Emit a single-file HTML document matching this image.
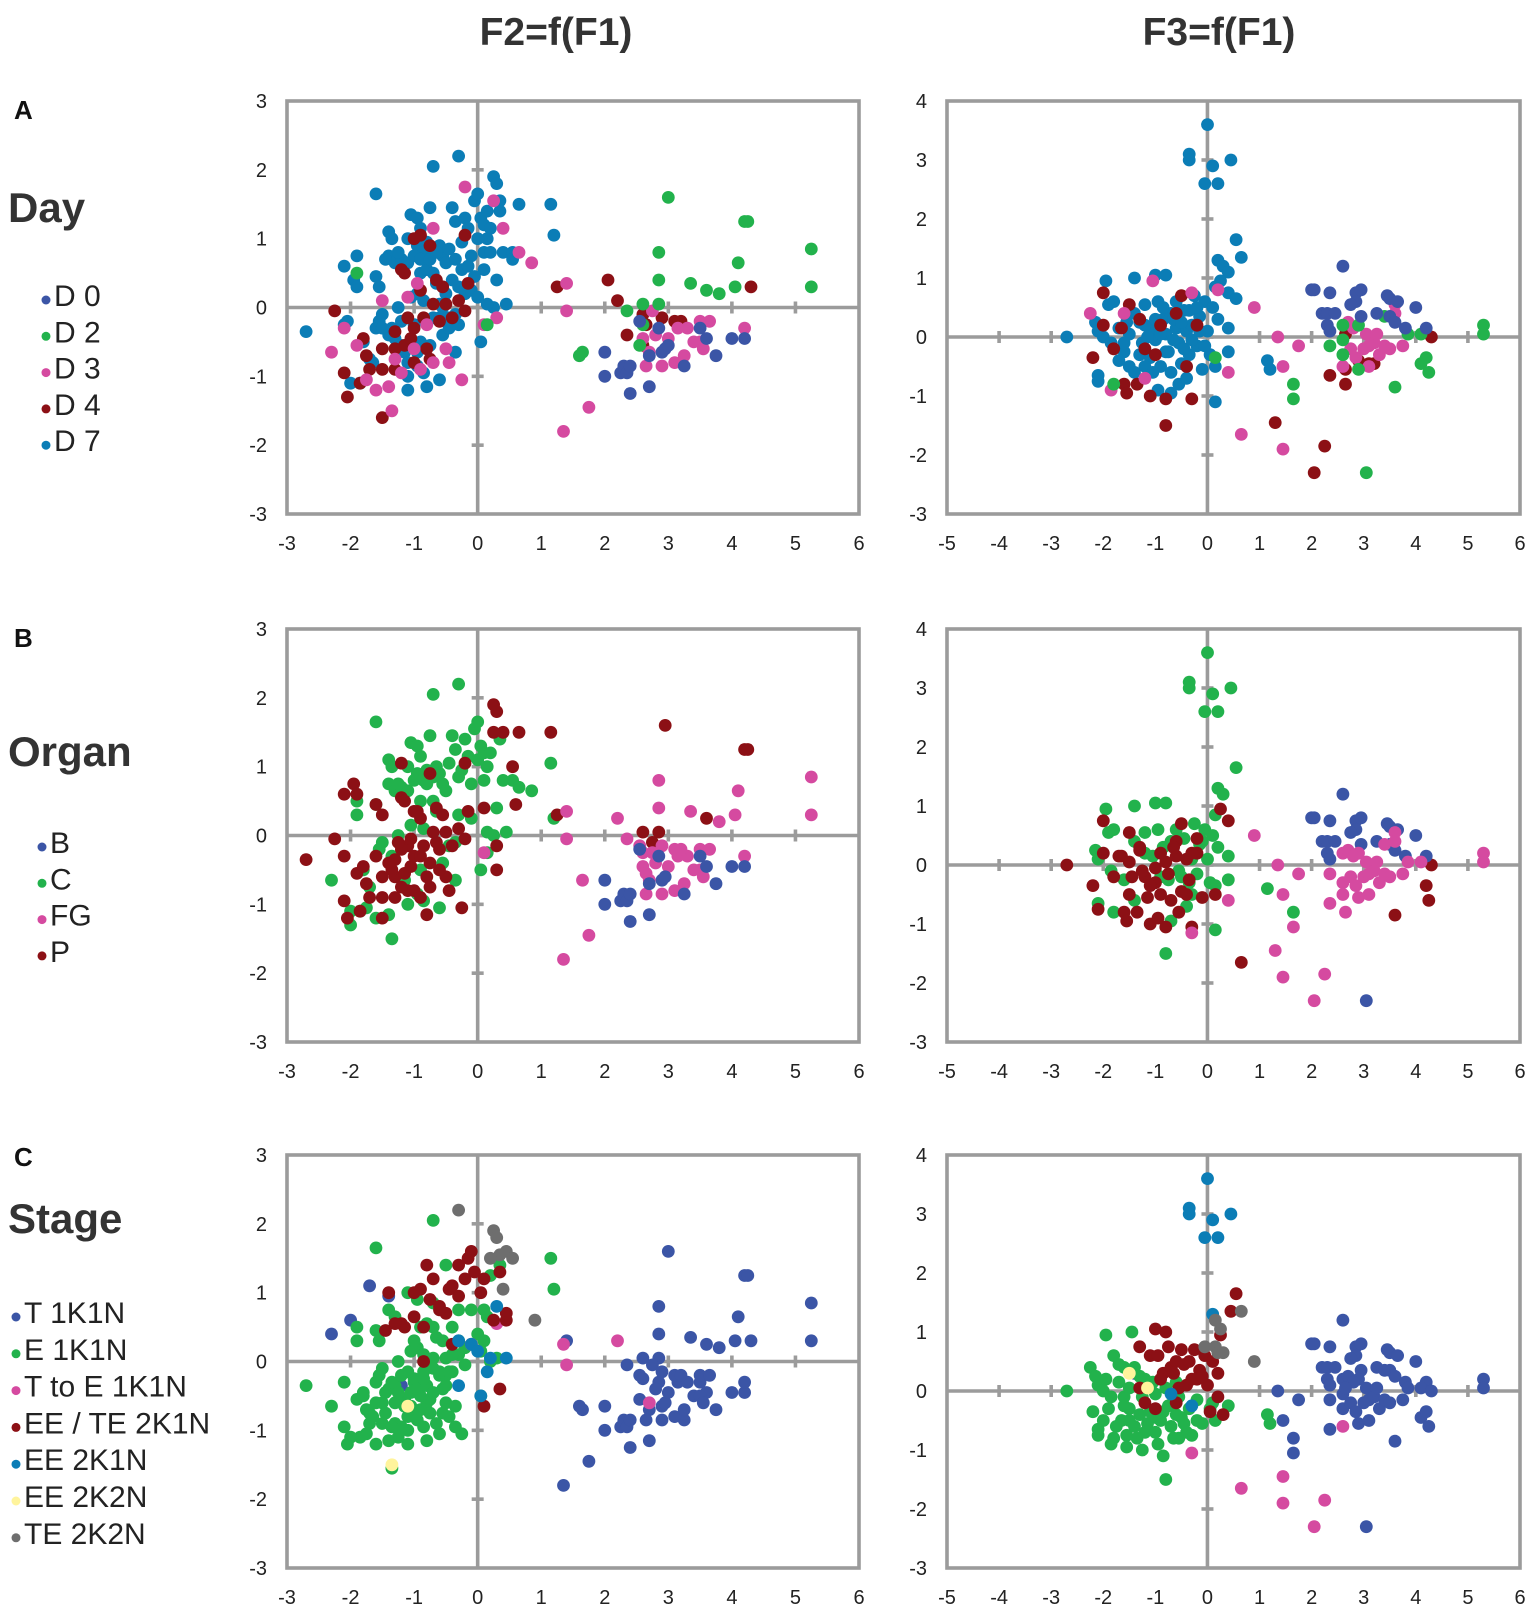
<!DOCTYPE html>
<html><head><meta charset="utf-8">
<style>
html,body{margin:0;padding:0;background:#fff;}
body{width:1535px;height:1610px;position:relative;overflow:hidden;font-family:"Liberation Sans",sans-serif;color:#222;}
svg{position:absolute;left:0;top:0;}
</style></head>
<body>
<svg id="chart" width="1535" height="1610" viewBox="0 0 1535 1610" xmlns="http://www.w3.org/2000/svg" font-family="Liberation Sans, sans-serif">
<text x="556" y="45" font-size="39" font-weight="bold" text-anchor="middle" fill="#333">F2=f(F1)</text>
<text x="1219" y="45" font-size="39" font-weight="bold" text-anchor="middle" fill="#333">F3=f(F1)</text>
<text x="14" y="119" font-size="26" font-weight="bold" fill="#111">A</text>
<text x="14" y="647" font-size="26" font-weight="bold" fill="#111">B</text>
<text x="14" y="1166" font-size="26" font-weight="bold" fill="#111">C</text>
<text x="8" y="222" font-size="42" font-weight="bold" fill="#333">Day</text>
<text x="8" y="766" font-size="42" font-weight="bold" fill="#333">Organ</text>
<text x="8" y="1233" font-size="42" font-weight="bold" fill="#333">Stage</text>
<g id="legends"></g>
<g id="panels"></g>
</svg>
<script>
// ---------- DATA ----------
const legendDay = ["D 0","D 2","D 3","D 4","D 7"];
const legendOrgan = ["B","C","FG","P"];
const legendStage = ["T 1K1N","E 1K1N","T to E 1K1N","EE / TE 2K1N","EE 2K1N","EE 2K2N","TE 2K2N"];
const leftXTicks = [-3,-2,-1,0,1,2,3,4,5,6];
const leftYTicks = [-3,-2,-1,0,1,2,3];
const rightXTicks = [-5,-4,-3,-2,-1,0,1,2,3,4,5,6];
const rightYTicks = [-3,-2,-1,0,1,2,3,4];

// Panel A left (F2 vs F1)
const aL_D7 = "-2.7,-0.35 -2.1,-0.25 -2.05,-0.2 -1.95,0.4 -1.9,0.75 -2.1,0.6 -1.9,0.3 -1.6,0.45 -1.55,0.3 -1.6,1.65 -1.4,1.1 -1.35,1.0 -1.4,0.75 -1.3,0.65 -1.2,0.7 -1.1,0.65 -1.1,1.0 -1.05,1.35 -0.95,1.3 -0.9,1.15 -0.95,0.9 -0.85,0.8 -0.8,0.95 -0.75,1.45 -0.7,2.05 -0.7,0.85 -0.6,0.9 -0.55,0.75 -0.5,0.65 -0.4,1.45 -0.35,1.25 -0.3,2.2 -0.25,0.95 -0.2,1.3 -0.15,1.15 -0.1,0.75 -0.05,1.55 0,1.65 0.05,1.3 0.1,1.2 0.15,1.0 0.25,1.9 0.3,1.8 0.35,1.55 0.35,1.4 0.1,0.8 0.2,0.8 0.4,0.8 0.55,0.8 0.55,0.7 0.65,1.5 1.15,1.5 1.2,1.05 0.45,0.05 0.25,0 0.15,0.05 0.3,0.4 0.1,0.55 -1.6,-0.3 -1.55,-0.2 -1.5,-0.1 -1.4,-0.4 -1.35,-0.3 -1.25,0 -1.2,-0.2 -1.15,-0.65 -1.1,-0.8 -1.1,-1.0 -1.1,-1.2 -0.95,-0.85 -0.9,-0.5 -0.85,-0.95 -0.8,-1.15 -0.75,-0.55 -0.6,-1.05 -0.55,-0.4 -0.5,-0.2 -0.45,-0.15 -0.4,-0.2 -0.35,-0.1 -0.35,-0.65 -0.3,0.3 -0.2,0.2 -0.1,0.25 0,0.15 0.05,-0.5 -1.8,-0.5 -1.7,-0.75 -1.65,-0.8 -1.85,-1.1 -2.0,-1.1 -0.9,0.5 -0.8,0.55 -0.7,0.5 -0.65,0.35 -0.55,0.3 -1.05,0.15 -0.95,0.2 -0.85,0.1 -0.7,-0.15 -0.6,-0.15 -1.0,-0.25 -1.45,0.7 -1.25,0.8 -1.0,0.75 -0.9,0.7 -0.75,0.7 -0.65,0.8 -0.45,0.85 -0.35,0.7 -0.25,0.55 -0.15,0.6 -0.05,0.45 0.0,1.0 0.15,1.4 0.2,1.15 -0.4,0.4 -0.5,0.2 -0.6,0.05 -0.3,-0.25 -0.45,-0.3 -0.55,0.0 -1.5,-0.3 -1.3,-0.45 -1.2,-0.55 -0.95,-0.65";
const aL_D4 = "-2.25,-0.05 -2.1,-0.95 -2.05,-1.3 -1.8,-0.45 -1.75,-0.7 -1.7,-0.9 -1.5,-0.6 -1.5,-0.9 -1.5,-1.6 -1.3,-0.35 -1.3,-0.9 -1.2,0.55 -1.15,0.5 -1.15,-0.55 -1.05,-0.45 -1.0,-0.3 -1.0,-0.8 -0.9,0.25 -0.85,-0.15 -0.8,-0.6 -0.75,-0.75 -0.7,0.05 -0.6,-0.2 -0.55,0.3 -0.5,0.05 -0.4,-0.15 -0.3,0.1 -0.2,-0.05 -0.15,0.35 -0.2,1.05 -0.9,1.05 -1.0,1.0 -0.75,0.9 -1.85,-1.1 1.25,0.3 2.05,0.4 2.2,0.1 2.35,-0.4 2.6,-0.1 2.65,-0.25 2.6,-0.55 2.9,-0.15 3.1,-0.2 3.2,-0.2 4.3,0.3 -1.3,-0.6 -1.1,-0.15 -0.65,0.4";
const aL_D3 = "-2.3,-0.65 -2.1,-0.3 -1.9,-0.55 -1.75,-1.05 -1.6,-1.2 -1.4,-1.15 -1.35,-1.5 -1.5,0.1 -1.3,-0.75 -1.2,-0.95 -1.0,-0.6 -0.9,-0.9 -0.8,-0.25 -0.7,1.15 -0.7,-0.8 -0.5,-0.6 -0.45,-0.8 -0.25,-1.05 -0.2,1.75 0.25,1.55 0.4,1.15 0.65,0.8 0.85,0.65 0.3,-0.15 0.1,-0.25 1.4,0.35 1.4,-0.05 1.35,-1.8 1.75,-1.45 2.6,-0.45 2.65,-0.85 2.75,-0.05 2.8,-0.4 3.0,-0.45 2.9,-0.85 3.1,-0.8 3.15,-0.3 3.3,-0.3 3.4,-0.5 3.5,-0.2 3.5,-0.5 3.55,-0.6 3.65,-0.2 3.25,-0.7 4.2,-0.3 2.7,-0.65 -0.95,0.35 -1.1,0.15";
const aL_D2 = "3.0,1.6 4.2,1.25 4.25,1.25 2.85,0.8 5.25,0.85 4.1,0.65 2.85,0.4 3.35,0.35 3.6,0.25 3.8,0.2 4.05,0.3 5.25,0.3 2.6,0.05 2.85,0.05 2.35,-0.05 2.6,-0.25 2.55,-0.55 1.65,-0.65 1.6,-0.7 -1.9,0.5 0.15,-0.25";
const aL_D0 = "2.0,-0.65 2.0,-1.0 2.25,-0.95 2.3,-0.85 2.35,-0.95 2.4,-0.85 2.4,-1.25 2.7,-1.15 2.55,-0.2 2.7,-0.7 2.85,-0.3 2.9,-0.65 2.95,-0.6 3.25,-0.85 3.5,-0.3 3.6,-0.45 3.75,-0.7 4.0,-0.45 4.2,-0.45 3.0,-0.55";

// Panel A right (F3 vs F1)
const aR_D7 = "0,3.6 -0.35,3.1 -0.35,3.0 0.1,2.9 0.45,3.0 -0.05,2.6 0.2,2.6 0.55,1.65 0.65,1.35 0.2,1.3 0.3,1.2 0.4,1.1 0.25,0.95 0.4,0.75 0.55,0.65 0.15,0.85 -2.7,0 -1.95,0.95 -1.4,1.0 -1.0,1.05 -0.8,1.05 -1.8,0.6 -1.9,0.55 -2.15,0.25 -2.1,0.1 -2.0,0 -1.85,-0.1 -1.7,0.15 -1.6,-0.25 -1.5,0.05 -1.5,-0.5 -1.4,0.4 -1.4,-0.6 -1.3,0.25 -1.25,-0.1 -1.2,0.55 -1.1,-0.35 -1.05,0.15 -1.0,-0.05 -0.95,0.6 -0.9,-0.5 -0.85,0.3 -0.8,0.05 -0.75,-0.25 -0.7,-0.6 -0.7,0.4 -0.6,0.15 -0.55,-0.1 -0.5,-0.45 -0.45,0.45 -0.4,0.1 -0.35,-0.3 -0.3,0.2 -0.25,0.7 -0.2,-0.15 -0.15,0.35 -0.1,-0.55 -0.05,0.6 0,0.1 0.05,-0.3 0.1,0.5 0.15,-0.5 0.2,0.3 0.4,0.15 0.4,-0.25 -0.95,-0.9 -0.7,-0.95 -0.55,-0.8 -0.4,-0.7 0.15,-1.1 -2.1,-0.65 -2.1,-0.75 -1.6,-0.1 -1.2,0.2 -0.65,0.3 1.15,-0.4 1.2,-0.55 -1.15,0.0 -1.0,0.3 -0.9,0.05 -0.8,-0.25 -0.65,-0.05 -0.5,0.25 -0.45,-0.2 -0.3,-0.05 -0.15,0.1 -0.05,-0.15 -1.3,-0.3 -1.2,-0.5 -1.05,-0.6 -0.85,0.5 -0.6,0.6 -0.35,0.45 -0.2,0.5 -1.7,-0.4 -1.55,0.25";
const aR_D4 = "-2.0,0.75 -2.0,0.2 -1.5,0.55 -2.2,-0.35 -1.6,-0.8 -1.55,-0.95 -1.35,-0.8 -1.1,-1.0 -0.8,-1.05 -0.3,-1.05 -0.8,-1.5 -1.65,0.15 -1.3,0.3 -1.0,-0.3 -0.6,0.4 -0.9,0.2 -0.4,-0.5 -0.2,0.2 -1.2,-0.2 1.3,-1.45 2.05,-2.3 2.25,-1.85 2.35,-0.65 2.65,0.05 2.65,-0.55 2.65,-0.8 2.9,-0.4 3.2,-0.45 3.1,-0.45 4.3,0 -1.8,-0.2 -0.5,0.7";
const aR_D3 = "-2.25,0.4 -1.85,-0.9 -1.05,0.95 0.2,0.8 0.9,0.5 1.35,0 1.75,-0.15 1.45,-0.5 0.65,-1.65 1.45,-1.9 0.4,-0.6 -0.3,0.75 2.6,-0.5 2.7,0.25 2.8,0.15 2.75,-0.2 2.85,-0.35 3.0,-0.2 3.05,0.05 3.1,-0.15 3.2,-0.1 3.25,0.05 3.3,-0.3 3.4,-0.15 3.5,-0.2 3.6,0.55 3.6,0.4 3.75,-0.15 3.1,-0.5 -1.6,0.4 -1.2,-0.7";
const aR_D2 = "5.3,0.2 5.3,0.05 4.1,0.05 3.85,0.05 3.4,0.35 2.9,0.2 2.6,0.2 2.6,-0.05 2.35,-0.15 2.6,-0.3 2.9,-0.55 4.1,-0.45 4.2,-0.35 4.25,-0.6 3.6,-0.85 1.65,-0.8 1.65,-1.05 3.05,-2.3 -1.8,-0.8 0.15,-0.35";
const aR_D0 = "2.6,1.2 2.0,0.8 2.05,0.8 2.35,0.75 2.85,0.75 2.95,0.8 2.85,0.6 2.75,0.55 3.45,0.7 3.5,0.65 3.65,0.6 4.0,0.5 2.2,0.4 2.3,0.4 2.45,0.4 2.3,0.2 2.35,0.1 2.95,0.35 3.25,0.4 3.5,0.35 3.6,0.25 3.8,0.15 4.2,0.15";

// Panel B left
const bL_C = "-2.3,-0.65 -1.9,0.5 -1.75,-1.05 -1.6,-1.2 -1.4,-1.15 -1.35,-1.5 -1.6,1.65 -1.4,1.1 -1.35,1.0 -1.4,0.75 -1.3,0.65 -1.2,0.7 -1.1,0.65 -1.1,1.0 -1.05,1.35 -0.95,1.3 -0.9,1.15 -0.95,0.9 -0.85,0.8 -0.8,0.95 -0.75,1.45 -0.7,2.05 -0.7,0.85 -0.6,0.9 -0.55,0.75 -0.5,0.65 -0.4,1.45 -0.35,1.25 -0.3,2.2 -0.25,0.95 -0.15,1.15 -0.1,0.75 -0.05,1.55 0,1.65 0.05,1.3 0.1,1.2 0.15,1.0 0.35,1.4 0.1,0.8 0.4,0.8 0.55,0.8 0.65,0.7 0.85,0.65 1.15,1.05 0.45,0.05 0.25,0 0.15,0.05 0.3,0.4 1.2,0.25 -1.55,-0.2 -1.5,-0.1 -1.35,-0.3 -1.25,0 -1.15,-0.65 -1.1,-1.0 -0.95,-0.85 -0.9,-0.5 -0.85,-0.95 -0.6,-1.05 -0.55,-0.4 -0.45,-0.15 -0.35,-0.1 -0.35,-0.65 -0.3,0.3 -0.1,0.25 0.05,-0.5 0.15,-0.25 -1.8,-0.5 -1.7,-0.75 -1.85,-1.1 -2.0,-1.1 -2.0,-1.3 -0.9,0.5 -0.7,0.5 -0.65,0.35 -1.05,0.15 -0.85,0.1 -1.9,0.3 -1.6,0.45 -1.25,0.75 -1.0,0.8 -0.8,0.75 -0.65,1.0 -0.45,1.05 -0.3,0.85 -0.2,1.4 0.0,1.1 0.2,1.2";
const bL_P = "-2.7,-0.35 -2.25,-0.05 -2.1,-0.3 -2.1,-0.95 -2.05,-1.2 -1.9,-0.55 -1.8,-0.45 -1.75,-0.7 -1.7,-0.9 -1.5,-0.6 -1.5,-0.9 -1.3,-0.35 -1.3,-0.9 -1.2,0.55 -1.15,0.5 -1.15,-0.55 -1.05,-0.45 -1.0,-0.3 -1.0,-0.8 -0.9,0.25 -0.85,-0.15 -0.8,-0.6 -0.75,-0.75 -0.7,0.05 -0.6,-0.2 -0.55,0.3 -0.5,0.05 -0.4,-0.15 -0.3,0.1 -0.2,-0.05 -0.15,0.35 -0.2,1.05 -1.2,1.05 -1.0,0.35 -0.75,0.9 -1.85,-1.1 -1.95,0.75 -1.9,0.6 -2.1,0.6 -1.6,0.45 -1.5,0.3 -1.3,-0.6 -1.1,-0.15 -0.65,0.4 -1.4,-0.4 -1.2,-0.2 -1.1,-0.8 -0.8,-1.15 -0.5,-0.6 -0.45,-0.8 -0.25,-1.05 0.25,1.9 0.3,1.8 0.25,1.5 0.4,1.5 0.65,1.5 0.55,1.0 0.6,0.45 0.1,0.4 0.3,-0.15 0.3,-0.5 -0.95,0.35 -1.6,-0.3 -1.5,-1.2 -0.9,-0.9 1.15,1.5 1.25,0.3 2.95,1.6 4.2,1.25 4.25,1.25 2.6,0.05 2.75,-0.1 2.85,0.05 3.6,0.25 -1.25,-0.1 -1.05,-0.05 -0.9,-0.3 -0.75,-0.4 -0.6,-0.5 -0.65,-0.1 -1.35,-0.5 -1.2,-0.75";
const bL_FG = "0.1,-0.25 1.4,0.35 1.4,-0.05 1.35,-1.8 1.75,-1.45 1.65,-0.65 2.2,0.25 2.85,0.8 2.85,0.4 3.35,0.35 3.8,0.2 4.05,0.3 4.1,0.65 5.25,0.85 5.25,0.3 2.35,-0.05 2.55,-0.15 2.6,-0.45 2.65,-0.85 2.75,-0.25 2.8,-0.4 3.0,-0.45 2.9,-0.85 3.1,-0.8 3.15,-0.3 3.3,-0.3 3.4,-0.5 3.5,-0.2 3.5,-0.5 3.55,-0.6 3.65,-0.2 3.25,-0.7 4.2,-0.3 2.7,-0.65 2.65,-0.55 2.9,-0.15 3.1,-0.2 3.2,-0.2 2.6,-0.25";
const bL_B = "2.0,-0.65 2.0,-1.0 2.25,-0.95 2.3,-0.85 2.35,-0.95 2.4,-0.85 2.4,-1.25 2.7,-1.15 2.55,-0.2 2.7,-0.7 2.85,-0.3 2.9,-0.65 2.95,-0.6 3.25,-0.85 3.5,-0.3 3.6,-0.45 3.75,-0.7 4.0,-0.45 4.2,-0.45";

// Panel B right
const bR_C = "0,3.6 -0.35,3.1 -0.35,3.0 0.1,2.9 0.45,3.0 -0.05,2.6 0.2,2.6 0.55,1.65 0.2,1.3 0.3,1.2 0.15,0.85 -1.95,0.95 -1.4,1.0 -1.0,1.05 -0.8,1.05 -1.8,0.6 -1.9,0.55 -2.15,0.25 -2.1,0.1 -1.85,-0.1 -1.6,-0.25 -1.4,0.4 -1.4,-0.6 -1.2,0.55 -1.05,0.15 -0.95,0.6 -0.85,0.3 -0.75,-0.25 -0.7,0.4 -0.55,-0.1 -0.45,0.45 -0.35,-0.3 -0.25,0.7 -0.15,0.35 -0.05,0.6 0.05,-0.3 0.1,0.5 0.2,0.3 0.4,0.15 0.4,-0.25 -0.7,-0.95 -0.4,-0.7 0.15,-1.1 -2.1,-0.65 -1.8,-0.8 -0.8,-1.5 -0.3,-0.5 0,0.1 0.15,-0.35 -0.2,-0.15 -1.2,0.2 1.65,-0.8 1.15,-0.4 -0.6,0.6 -0.3,0.1 -0.1,0.4 -0.9,-0.2 -0.5,-0.2";
const bR_P = "-2.7,0 -2.0,0.75 -2.0,0.2 -1.5,0.55 -2.2,-0.35 -1.6,-0.8 -1.55,-0.95 -1.35,-0.8 -1.1,-1.0 -0.8,-1.05 -0.3,-1.05 -1.65,0.15 -1.3,0.3 -1.0,-0.3 -0.6,0.4 -0.9,0.2 -0.4,-0.5 -0.2,0.2 -1.2,-0.2 -1.8,-0.2 -0.5,0.7 -1.5,0.05 -1.5,-0.5 -1.3,0.25 -1.25,-0.1 -1.1,-0.35 -1.0,-0.05 -0.9,-0.5 -0.8,0.05 -0.7,-0.6 -0.6,0.15 -0.5,-0.45 -0.4,0.1 -0.3,0.2 -0.1,-0.55 0.15,-0.5 -0.95,-0.9 -0.55,-0.8 -2.1,-0.75 -1.7,0.15 -0.65,0.3 0.25,0.95 0.4,0.75 0.65,-1.65 4.3,0 4.2,-0.35 4.25,-0.6 3.6,-0.85 -1.15,-0.55 -0.75,-0.15 -0.35,-0.25 -1.45,-0.2 -0.2,0.45";
const bR_FG = "5.3,0.2 5.3,0.05 4.1,0.05 3.85,0.05 3.4,0.35 2.9,0.2 2.6,0.2 2.35,-0.15 2.6,-0.3 2.9,-0.55 1.65,-1.05 0.9,0.5 1.35,0 1.75,-0.15 1.45,-0.5 1.45,-1.9 1.3,-1.45 2.05,-2.3 2.25,-1.85 0.4,-0.6 2.6,-0.5 2.7,0.25 2.8,0.15 2.75,-0.2 2.85,-0.35 3.0,-0.2 3.05,0.05 3.1,-0.15 3.2,-0.1 3.25,0.05 3.3,-0.3 3.4,-0.15 3.5,-0.2 3.6,0.55 3.6,0.4 3.75,-0.15 3.1,-0.5 2.35,-0.65 2.65,-0.8 -0.3,-1.15";
const bR_B = "2.6,1.2 2.0,0.8 2.05,0.8 2.35,0.75 2.85,0.75 2.95,0.8 2.85,0.6 2.75,0.55 3.45,0.7 3.5,0.65 3.65,0.6 4.0,0.5 2.2,0.4 2.3,0.4 2.45,0.4 2.3,0.2 2.35,0.1 2.95,0.35 3.25,0.4 3.5,0.35 3.6,0.25 3.8,0.15 4.2,0.15 3.05,-2.3";

// Panel C left
const cL_T = "1.35,-1.8 1.75,-1.45 1.6,-0.65 1.65,-0.7 2.0,-0.65 2.0,-1.0 2.25,-0.95 2.3,-0.85 2.35,-0.95 2.4,-0.85 2.4,-1.25 2.7,-1.15 2.55,-0.2 2.7,-0.7 2.85,-0.3 2.9,-0.65 2.95,-0.6 3.25,-0.85 3.5,-0.3 3.6,-0.45 3.75,-0.7 4.0,-0.45 4.2,-0.45 3.0,1.6 4.2,1.25 4.25,1.25 2.85,0.8 5.25,0.85 4.1,0.65 2.85,0.4 3.35,0.35 3.6,0.25 3.8,0.2 4.05,0.3 5.25,0.3 2.6,0.05 2.85,0.05 2.35,-0.05 2.6,-0.25 2.55,-0.55 2.75,-0.05 2.8,-0.4 3.0,-0.45 2.9,-0.85 3.1,-0.8 3.15,-0.3 3.3,-0.3 3.4,-0.5 3.5,-0.2 3.5,-0.5 3.55,-0.6 3.65,-0.2 3.25,-0.7 4.2,-0.3 2.65,-0.85 2.9,-0.15 3.1,-0.2 3.2,-0.2 -1.7,1.1 -2.0,0.6 -1.4,0.95 -2.3,0.4 -1.2,-0.35 4.3,0.3 1.4,0.3";
const cL_E = "-2.7,-0.35 -2.3,-0.65 -2.1,-0.3 -2.1,-0.95 -2.05,-1.2 -1.9,-0.55 -1.8,-0.45 -1.75,-0.7 -1.75,-1.05 -1.7,-0.9 -1.6,-1.2 -1.5,-0.6 -1.5,-0.9 -1.4,-1.15 -1.35,-1.55 -1.3,-0.35 -1.3,-0.9 -1.15,-0.55 -1.05,-0.45 -1.0,-0.3 -1.0,-0.8 -0.85,-0.15 -0.8,-0.6 -0.75,-0.75 -0.7,0.05 -0.6,-0.2 -0.5,0.05 -0.4,-0.15 -0.3,0.1 -0.2,-0.05 -1.6,-0.3 -1.55,-0.2 -1.5,-0.1 -1.4,-0.4 -1.35,-0.3 -1.25,0 -1.2,-0.2 -1.15,-0.65 -1.1,-0.8 -1.1,-1.0 -1.1,-1.2 -0.95,-0.85 -0.9,-0.5 -0.85,-0.95 -0.8,-1.15 -0.75,-0.55 -0.6,-1.05 -0.55,-0.4 -0.5,-0.2 -0.45,-0.15 -0.35,-0.65 -0.3,0.3 -0.2,0.2 -0.1,0.25 -1.8,-0.5 -1.7,-0.75 -1.65,-0.8 -1.85,-1.1 -2.0,-1.1 -0.9,0.5 -0.8,0.55 -0.7,0.5 -0.65,0.35 -0.55,0.3 -1.05,0.15 -0.95,0.2 -0.85,0.1 -0.6,-0.15 -1.0,-0.25 -1.3,-0.6 -1.1,-0.15 -0.5,-0.6 -0.45,-0.8 -0.25,-1.05 -1.9,0.5 -1.9,0.3 -1.6,0.45 -1.55,0.3 -1.6,1.65 -1.4,0.75 -1.3,0.65 -1.1,1.0 -1.0,0.3 -0.95,0.9 -0.7,0.85 -0.4,0.5 -0.5,1.4 -0.7,2.05 -0.3,0.75 -0.1,0.75 0,0.4 0.1,0.75 0.15,0.65 0.2,1.25 0.35,1.4 0.1,0.3 0.05,0.15 0.2,0 1.15,1.5 1.2,1.05 0.3,0.05 0.05,-0.5 -0.35,-0.95 -1.45,-0.75 -1.25,-0.45 -1.2,-0.95 -1.05,-0.65 -0.95,-0.4 -0.9,-0.7 -0.8,-0.35 -0.7,-0.45 -0.65,-0.9 -0.55,-0.75 -1.35,-0.95 -1.25,-1.1 -1.6,-0.6 -1.45,-0.45 -0.85,-0.25 -0.7,-0.1 -0.5,-0.35 -0.4,0.1";
const cL_TE1 = "1.35,0.25 1.4,-0.05 2.2,0.3 0.3,0.55 2.7,-0.6 -0.1,0.25";
const cL_EETE = "-1.2,0.55 -1.15,0.5 -1.3,0.55 -1.0,0.65 -0.9,1.05 -1.0,1.0 -0.75,0.9 -0.7,1.2 -0.6,0.8 -0.5,0.7 -0.4,1.1 -0.3,0.95 -0.2,1.2 -0.15,1.5 -0.1,1.6 -0.3,1.4 -0.05,1.3 0.1,1.2 -0.4,0.25 -0.6,0.75 0.25,0.6 0.45,0.6 0.45,0.7 0.35,1.3 -0.85,0.5 -1.45,0.45 -1.4,1.0 -0.8,1.4 -0.45,1.05 0.05,1.0 0.35,-0.4 0.1,-0.65 -0.85,0";
const cL_EE = "-0.3,0.3 -0.1,0.25 0,0.15 0.2,0.05 0.45,0.05 -0.3,-0.35 0.05,-0.5 0.15,-0.15 0.3,0.8";
const cL_EE2 = "-1.1,-0.65 -1.35,-1.5";
const cL_TE2 = "-0.3,2.2 0.25,1.9 0.3,1.8 0.35,1.55 0.45,1.6 0.2,1.5 0.55,1.5 0.4,1.05 0.9,0.6";

// Panel C right
const cR_T = "2.6,1.2 2.0,0.8 2.05,0.8 2.35,0.75 2.85,0.75 2.95,0.8 2.85,0.6 2.75,0.55 3.45,0.7 3.5,0.65 3.65,0.6 4.0,0.5 2.2,0.4 2.3,0.4 2.45,0.4 2.3,0.2 2.35,0.1 2.95,0.35 3.25,0.4 3.5,0.35 3.6,0.25 3.8,0.15 4.2,0.15 5.3,0.2 5.3,0.05 4.1,0.05 3.85,0.05 3.4,0.35 2.9,0.2 2.6,0.2 2.6,-0.05 2.35,-0.15 2.6,-0.3 2.9,-0.55 4.1,-0.45 4.2,-0.35 4.25,-0.6 3.6,-0.85 1.65,-0.8 1.65,-1.05 3.05,-2.3 2.7,0.25 2.8,0.15 2.75,-0.2 2.85,-0.35 3.0,-0.2 3.05,0.05 3.1,-0.15 3.2,-0.1 3.25,0.05 3.3,-0.3 3.4,-0.15 3.5,-0.2 3.75,-0.15 3.1,-0.5 4.3,0 2.65,0.05 2.35,-0.65 1.35,0 1.75,-0.15 1.45,-0.5 -1.4,0.3";
const cR_E = "-2.7,0 -2.25,0.4 -2.2,-0.35 -2.15,0.25 -2.1,0.1 -2.0,0 -1.95,0.95 -1.85,-0.1 -1.85,-0.9 -1.8,0.6 -1.8,-0.8 -1.7,0.15 -1.6,-0.25 -1.6,0.4 -1.5,-0.5 -1.4,-0.6 -1.3,0.25 -1.25,-0.1 -1.2,-0.7 -1.1,-0.35 -1.05,0.15 -1.0,-0.05 -0.95,-0.9 -0.9,-0.5 -0.8,0.05 -0.75,-0.25 -0.7,-0.6 -0.6,0.15 -0.55,-0.1 -0.5,-0.45 -0.4,-0.7 -0.35,-0.3 -0.2,-0.15 -0.1,-0.55 0.05,-0.3 0.15,-0.5 0.4,-0.25 -2.1,-0.65 -2.1,-0.75 -1.6,-0.1 -1.4,0.4 -1.2,0.2 -0.85,-1.1 -0.8,-1.5 -0.55,-0.8 -1.55,-0.95 -1.35,-0.8 -1.65,-0.5 -1.9,-0.3 -1.5,0.05 1.15,-0.4 1.2,-0.55 -1.45,1.0 -1.75,-0.6 -1.5,-0.3 -1.3,-0.4 -1.15,-0.55 -1.0,-0.7 -0.85,-0.35 -0.6,-0.4 -0.45,-0.55 -0.3,-0.75 -1.7,0.45 -1.55,-0.75 -1.25,-1.0 -1.0,-0.45 -0.65,-0.8 -2.0,-0.5 -1.95,0.2 -0.2,-0.5 0.1,-0.2";
const cR_TE1 = "-0.3,-1.05 0.65,-1.65 1.45,-1.45 1.45,-1.9 2.25,-1.85 2.05,-2.3 2.6,-0.6";
const cR_EETE = "-1.0,1.05 -0.8,1.0 -1.3,0.75 -1.1,0.6 -0.95,0.6 -0.85,0.3 -0.7,0.4 -0.6,0.5 -0.45,0.45 -0.4,0.1 -0.3,0.2 -0.25,0.7 -0.15,0.35 -0.05,0.6 0,0.1 0.1,0.5 0.2,0.3 0.2,-0.1 -0.65,0.3 -0.5,0.7 -1.2,-0.2 -1.0,-0.3 -0.9,0.2 -0.6,-0.2 -1.3,0.05 -0.2,0.2 0.3,-0.4 0.55,1.65 0.45,1.35 0.25,0.95 -0.75,0.75 -0.55,0.05 -0.35,0.5 -0.1,0.25 0.05,-0.35";
const cR_EE = "0,3.6 -0.35,3.1 -0.35,3.0 0.1,2.9 0.45,3.0 -0.05,2.6 0.2,2.6 0.1,1.3 -0.7,-0.05 -0.3,-0.25";
const cR_EE2 = "-1.5,0.3 -1.15,0.05";
const cR_TE2 = "0.15,1.2 0.25,1.05 -0.05,0.75 0.15,0.75 0.2,0.65 0.3,0.65 0.65,1.35 0.9,0.5";

// ---------- RENDER ----------
const NS = "http://www.w3.org/2000/svg";
const COL = {blue:"#3b55a6", green:"#22b24c", pink:"#d54aa0", red:"#8c1015", teal:"#0b7db6", yellow:"#fff49c", gray:"#6e6e6e"};
const AX = "#9b9b9b";
function parse(s){return s.trim().split(/\s+/).map(p=>p.split(",").map(Number));}
function mk(tag, attrs, parent){const e=document.createElementNS(NS,tag);for(const k in attrs)e.setAttribute(k,attrs[k]);parent.appendChild(e);return e;}

const panelsG = document.getElementById("panels");
const LL=287, LR=859, RL=947, RR=1520;
const panels = [
 {id:"a-left", L:LL,R:LR,T:101, xmin:-3,xmax:6,ymin:-3,ymax:3, xt:leftXTicks,yt:leftYTicks, series:[[aL_D7,"teal"],[aL_D4,"red"],[aL_D3,"pink"],[aL_D2,"green"],[aL_D0,"blue"]]},
 {id:"a-right",L:RL,R:RR,T:101, xmin:-5,xmax:6,ymin:-3,ymax:4, xt:rightXTicks,yt:rightYTicks, series:[[aR_D7,"teal"],[aR_D4,"red"],[aR_D3,"pink"],[aR_D2,"green"],[aR_D0,"blue"]]},
 {id:"b-left", L:LL,R:LR,T:629, xmin:-3,xmax:6,ymin:-3,ymax:3, xt:leftXTicks,yt:leftYTicks, series:[[bL_C,"green"],[bL_P,"red"],[bL_FG,"pink"],[bL_B,"blue"]]},
 {id:"b-right",L:RL,R:RR,T:629, xmin:-5,xmax:6,ymin:-3,ymax:4, xt:rightXTicks,yt:rightYTicks, series:[[bR_C,"green"],[bR_P,"red"],[bR_B,"blue"],[bR_FG,"pink"]]},
 {id:"c-left", L:LL,R:LR,T:1155, xmin:-3,xmax:6,ymin:-3,ymax:3, xt:leftXTicks,yt:leftYTicks, series:[[cL_T,"blue"],[cL_E,"green"],[cL_TE1,"pink"],[cL_EETE,"red"],[cL_EE,"teal"],[cL_EE2,"yellow"],[cL_TE2,"gray"]]},
 {id:"c-right",L:RL,R:RR,T:1155, xmin:-5,xmax:6,ymin:-3,ymax:4, xt:rightXTicks,yt:rightYTicks, series:[[cR_T,"blue"],[cR_E,"green"],[cR_EETE,"red"],[cR_TE1,"pink"],[cR_EE,"teal"],[cR_EE2,"yellow"],[cR_TE2,"gray"]]}
];
const H = 413;
panels.forEach(p=>{
  const g = mk("g",{},panelsG);
  
  
  const sx = v => p.L + (v-p.xmin)/(p.xmax-p.xmin)*(p.R-p.L);
  const sy = v => p.T + (p.ymax-v)/(p.ymax-p.ymin)*H;
  const B = p.T+H;
  const frame = mk("rect",{x:p.L,y:p.T,width:p.R-p.L,height:H,fill:"none",stroke:AX,"stroke-width":3.6},g);
  
  
  const x0=sx(0), y0=sy(0);
  const ax = mk("g",{},g);
  
  
  mk("line",{x1:p.L,x2:p.R,y1:y0,y2:y0,stroke:AX,"stroke-width":3.6},ax);
  mk("line",{x1:x0,x2:x0,y1:p.T,y2:B,stroke:AX,"stroke-width":3.6},ax);
  p.xt.forEach(t=>{ if(t>p.xmin && t<p.xmax) mk("line",{x1:sx(t),x2:sx(t),y1:y0-6,y2:y0+6,stroke:AX,"stroke-width":3.6},ax); });
  p.yt.forEach(t=>{ if(t>p.ymin && t<p.ymax) mk("line",{x1:x0-6,x2:x0+6,y1:sy(t),y2:sy(t),stroke:AX,"stroke-width":3.6},ax); });
  const tl = mk("g",{"font-size":20,fill:"#222"},g);
  
  
  p.xt.forEach(t=>{ const e=mk("text",{x:sx(t),y:B+36,"text-anchor":"middle"},tl); e.textContent=String(t); });
  p.yt.forEach(t=>{ const e=mk("text",{x:p.L-20,y:sy(t)+7,"text-anchor":"end"},tl); e.textContent=String(t); });
  p.series.forEach(([s,c])=>{
    const sg = mk("g",{fill:COL[c]},g);
    
    
    parse(s).forEach(([x,y])=>{
      const d = mk("circle",{cx:sx(x).toFixed(1),cy:sy(y).toFixed(1),r:6.4},sg);
      
      
    });
  });
});

// legends
const lg = document.getElementById("legends");
function legend(items, colors, y0, step, key, dx){
  items.forEach((t,i)=>{
    const g = mk("g",{},lg);
    
    
    const y = y0 + i*step;
    mk("circle",{cx:dx,cy:y+5,r:4.5,fill:COL[colors[i]]},g);
    const e = mk("text",{x:dx+8,y:y+11,"font-size":30,fill:"#222"},g);
    e.textContent = t;
  });
}
legend(legendDay,["blue","green","pink","red","teal"],295,36.3,"day",46);
legend(legendOrgan,["blue","green","pink","red"],842,36.3,"organ",42);
legend(legendStage,["blue","green","pink","red","teal","yellow","gray"],1312,36.8,"stage",16);
</script>
</body></html>
